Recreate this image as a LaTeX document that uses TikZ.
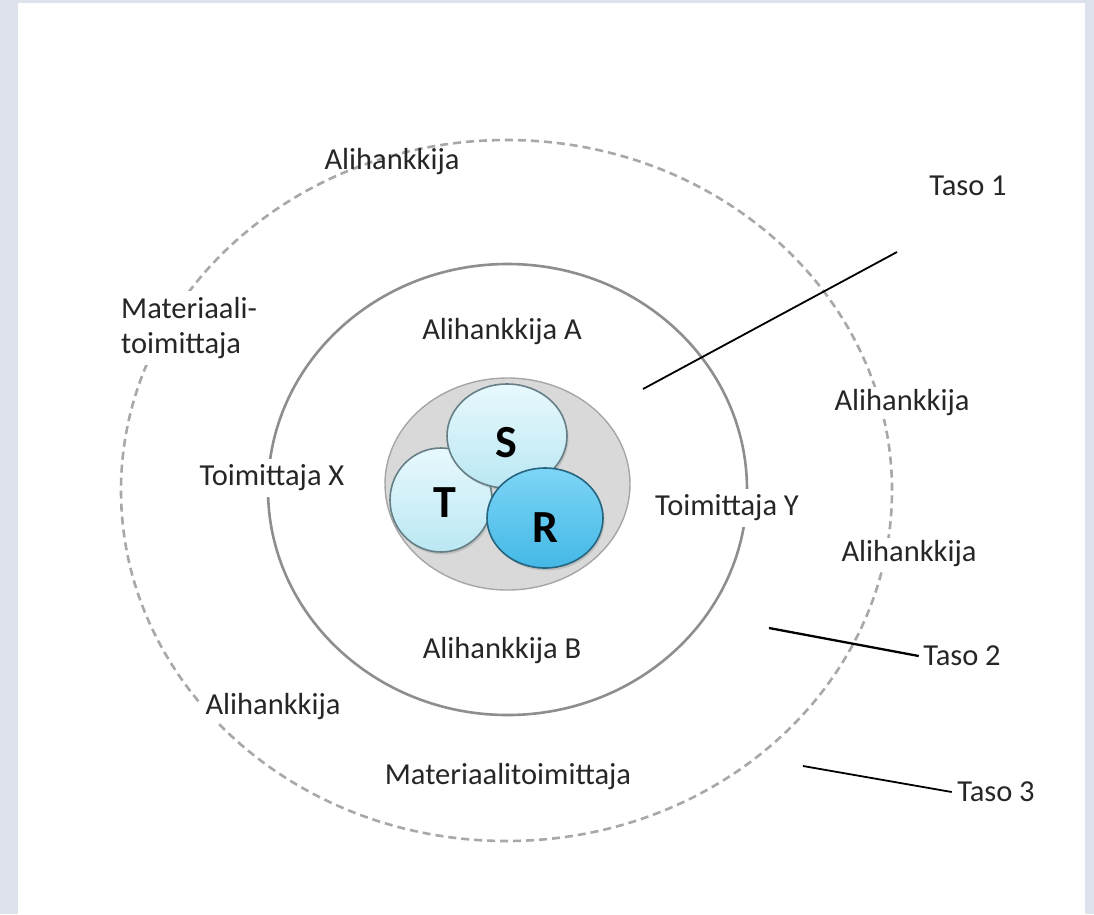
\documentclass[tikz,border=0pt]{standalone}
\usepackage{fontspec}
\setmainfont{Carlito}
\usetikzlibrary{shapes.geometric,positioning,shadows}

\definecolor{slidebg}{HTML}{DDE2EC}
\definecolor{dashgray}{HTML}{A8A8A8}
\definecolor{ringgray}{HTML}{8E8E8E}
\definecolor{coregray}{HTML}{D9D9D9}
\definecolor{paleblue}{HTML}{E8F9FD}
\definecolor{paleblueB}{HTML}{BAE7F3}
\definecolor{deepblue}{HTML}{7DD5F6}
\definecolor{deepblueB}{HTML}{44B8E6}

\begin{document}
\begin{tikzpicture}[
    x=1pt, y=-1pt,
    every node/.style={font=\fontsize{30.5}{35}\selectfont, text=black!85},
    ring/.style={ellipse, inner sep=0pt},
    ball/.style={ellipse, inner sep=0pt, line width=1.6pt,
        drop shadow={opacity=0.3, shadow xshift=1.5pt, shadow yshift=-2.5pt}},
    letter/.style={font=\fontsize{46}{52}\selectfont\bfseries, text=black},
    cover/.style={fill=white, inner sep=6pt},
    lead/.style={line width=1.8pt, black}
]
    % Slide background
    \fill[slidebg] (0,0) rectangle (1094,914);
    \fill[white] (18,3) rectangle (1085,914);
    \useasboundingbox (0,0) rectangle (1094,914);

    % Rings
    \node[ring, draw=dashgray, line width=2.6pt, dash pattern=on 8pt off 5pt,
        minimum width=771pt, minimum height=701pt] (outer) at (506.5,490.5) {};
    \node[ring, draw=ringgray, line width=2.6pt,
        minimum width=479pt, minimum height=451pt] (inner) at (507.5,489.5) {};
    \node[ring, draw=black!35, line width=1.4pt, fill=coregray,
        minimum width=245pt, minimum height=212pt] (core) at (507.5,484) {};

    % T, S, R
    \node[ball, draw=black!45!paleblueB, top color=paleblue, bottom color=paleblueB,
        minimum width=102pt, minimum height=104pt] (tball) at (441,500) {};
    \node[ball, draw=black!45!paleblueB, top color=paleblue, bottom color=paleblueB,
        minimum width=120pt, minimum height=104pt] (sball) at (507,436) {};
    \node[ball, draw=black!45!deepblueB, top color=deepblue, bottom color=deepblueB,
        minimum width=116pt, minimum height=100pt] (rball) at (545,518) {};
    \node[letter] (tlet) at (445,503) {T};
    \node[letter] (slet) at (506,443) {S};
    \node[letter] (rlet) at (545,528) {R};

    % Labels
    \node (topsub) at (392,162) {Alihankkija};
    \node[cover, align=left, anchor=west] (matsupp) at (115,328) {Materiaali-\\toimittaja};
    \node (suba) at (502,332) {Alihankkija A};
    \node[cover] (suppx) at (272,478) {Toimittaja X};
    \node[cover] (suppy) at (727,508) {Toimittaja Y};
    \node[cover, inner ysep=3pt] (rightsub1) at (902,403) {Alihankkija};
    \node[cover, inner ysep=3pt] (rightsub2) at (909,554) {Alihankkija};
    \node (subb) at (502,651) {Alihankkija B};
    \node[cover, inner ysep=3pt] (leftsub) at (273,707) {Alihankkija};
    \node (matbottom) at (508,777) {Materiaalitoimittaja};

    % Level markers
    \node (taso1) at (968,186) {Taso 1};
    \node (taso2) at (962,656) {Taso 2};
    \node (taso3) at (996,792) {Taso 3};
    \coordinate (t1a) at (643,389);
    \coordinate (t1b) at (897,252);
    \coordinate (t2a) at (769,628);
    \coordinate (t3a) at (803,766);
    \draw[lead] (t1a) -- (t1b);
    \draw[lead, line width=2.3pt] (t2a) -- ([xshift=-1pt]taso2.west);
    \draw[lead] (t3a) -- ([xshift=-2pt]taso3.west);

\end{tikzpicture}
\end{document}
